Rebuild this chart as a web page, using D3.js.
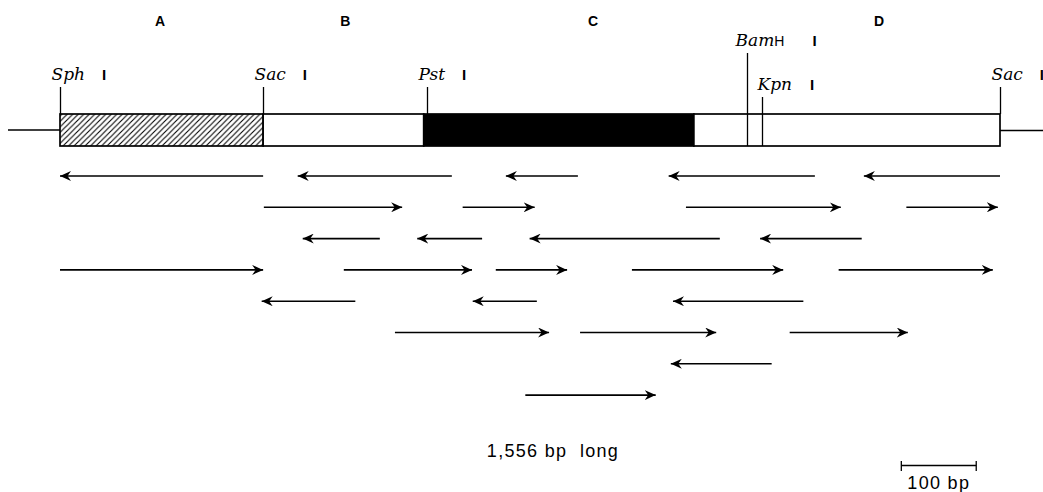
<!DOCTYPE html>
<html>
<head>
<meta charset="utf-8">
<script src="https://cdn.jsdelivr.net/npm/d3@7"></script>
<style>
  body { margin: 0; background: #fff; }
  svg { display: block; }
</style>
</head>
<body>
<svg id="chart" width="1043" height="492"></svg>
<script>
// positions are in bp along the insert
const MAP_LENGTH = 1305;
const sections = ['A', 'B', 'C', 'D'];
const sectionCenters = [139, 396, 740, 1137];

const regionStarts = [0, 282, 505, 880];
const regionEnds = [282, 505, 880, 1305];
const regionFills = ['hatch', 'open', 'solid', 'open'];

const siteNames = ['Sph', 'Sac', 'Pst', 'BamH', 'Kpn', 'Sac'];
const sitePositions = [0, 282, 510, 954, 975, 1305];
const siteLevels = [0, 0, 0, 2, 1, 0];

// sequencing runs: [from, to] in bp, arrow points at "to"
const runRows = [
  [[282, 0], [544, 330], [719, 619], [1048, 845], [1305, 1116]],
  [[283, 475], [559, 659], [869, 1084], [1175, 1302]],
  [[444, 337], [586, 496], [916, 652], [1113, 972]],
  [[0, 282], [394, 572], [605, 704], [794, 1004], [1081, 1295]],
  [[410, 280], [662, 573], [1032, 851]],
  [[465, 679], [722, 911], [1013, 1177]],
  [[988, 848]],
  [[646, 827]]
];

const TOTAL_LABEL = '1,556 bp  long';
const SCALE_BAR_BP = [1168, 1272];
const SCALE_BAR_LABEL = '100 bp';

(function () {
  const svg = d3.select('#chart');
  const x = d3.scaleLinear().domain([0, MAP_LENGTH]).range([60, 1000]);
  const row = d3.scaleLinear().domain([0, 1]).range([176, 207.3]);
  const BOX_TOP = 114;
  const BOX_BOTTOM = 146;
  const SITE_BASELINE = [80, 90, 46];
  const SITE_TICK_TOP = [87, 97, 53];
  const SITE_LABEL_SHIFT = [-9, -5, -12];
  const SITE_I_GAP = [17, 18, 28];
  const SERIF = '"DejaVu Serif", "Liberation Serif", serif';
  const SANS = '"Liberation Sans", Arial, sans-serif';

  function addDefs () {
    let defs = svg.append('defs');
    let pattern = defs.append('pattern')
      .attr('id', 'hatch')
      .attr('patternUnits', 'userSpaceOnUse')
      .attr('width', 5.5)
      .attr('height', 5.5);
    pattern.append('path')
      .attr('d', 'M-1,6.5L6.5,-1M-1,1L1,-1M4.5,6.5L6.5,4.5')
      .attr('stroke', '#000')
      .attr('stroke-width', 1.1);
    defs.append('marker')
      .attr('id', 'head')
      .attr('viewBox', '0 -5 12 10')
      .attr('refX', 11)
      .attr('refY', 0)
      .attr('markerUnits', 'userSpaceOnUse')
      .attr('markerWidth', 12)
      .attr('markerHeight', 10)
      .attr('orient', 'auto')
      .append('path')
      .attr('d', 'M0,-5L11,0L0,5L3.5,0Z')
      .attr('fill', '#000');
  }

  function drawSectionLetters () {
    svg.append('g').selectAll('text')
      .data(sections)
      .join('text')
      .attr('x', (d, i) => x(sectionCenters[i]))
      .attr('y', 26)
      .attr('text-anchor', 'middle')
      .attr('font-family', SANS)
      .attr('font-weight', 'bold')
      .attr('font-size', 14)
      .text(d => d);
  }

  function drawMap () {
    let g = svg.append('g');
    g.append('line')
      .attr('x1', 8).attr('x2', x(0))
      .attr('y1', 130).attr('y2', 130)
      .attr('stroke', '#000').attr('stroke-width', 1.5);
    g.append('line')
      .attr('x1', x(MAP_LENGTH)).attr('x2', 1043)
      .attr('y1', 130.5).attr('y2', 130.5)
      .attr('stroke', '#000').attr('stroke-width', 1.5);

    g.selectAll('rect')
      .data(regionFills)
      .join('rect')
      .attr('x', (d, i) => x(regionStarts[i]))
      .attr('width', (d, i) => x(regionEnds[i]) - x(regionStarts[i]))
      .attr('y', BOX_TOP)
      .attr('height', BOX_BOTTOM - BOX_TOP)
      .attr('fill', d => d === 'hatch' ? 'url(#hatch)' : (d === 'solid' ? '#000' : '#fff'))
      .attr('stroke', '#000')
      .attr('stroke-width', 1.7);
  }

  function drawSites () {
    let g = svg.append('g');
    siteNames.forEach(function (name, i) {
      let sx = Math.round(x(sitePositions[i])) + 0.5;
      let level = siteLevels[i];
      let tx = sx + SITE_LABEL_SHIFT[level];
      g.append('line')
        .attr('x1', sx).attr('x2', sx)
        .attr('y1', SITE_TICK_TOP[level])
        .attr('y2', level > 0 ? BOX_BOTTOM : BOX_TOP)
        .attr('stroke', '#000')
        .attr('stroke-width', 1.3);

      let label = g.append('text')
        .attr('x', tx)
        .attr('y', SITE_BASELINE[level])
        .attr('font-family', SERIF)
        .attr('font-size', 17);
      let italicPart = name.replace(/H$/, '');
      label.append('tspan')
        .attr('font-style', 'italic')
        .text(italicPart);
      if (italicPart !== name) {
        label.append('tspan')
          .attr('font-family', SANS)
          .attr('font-size', 14)
          .text('H');
      }
      let w = label.node().getComputedTextLength();
      g.append('text')
        .attr('x', tx + w + SITE_I_GAP[level])
        .attr('y', SITE_BASELINE[level])
        .attr('font-family', SANS)
        .attr('font-weight', 'bold')
        .attr('font-size', 15)
        .text('I');
    });
  }

  function drawRuns () {
    let g = svg.append('g');
    runRows.forEach(function (runs, r) {
      g.selectAll('line.row' + r)
        .data(runs)
        .join('line')
        .attr('class', 'row' + r)
        .attr('x1', d => x(d[0]))
        .attr('x2', d => x(d[1]))
        .attr('y1', row(r))
        .attr('y2', row(r))
        .attr('stroke', '#000')
        .attr('stroke-width', 1.6)
        .attr('marker-end', 'url(#head)');
    });
  }

  function drawFooter () {
    svg.append('text')
      .attr('x', 553)
      .attr('y', 457)
      .attr('text-anchor', 'middle')
      .attr('font-family', SANS)
      .attr('font-size', 18)
      .attr('letter-spacing', 1.3)
      .style('white-space', 'pre')
      .text(TOTAL_LABEL);

    let g = svg.append('g');
    let x0 = x(SCALE_BAR_BP[0]);
    let x1 = x(SCALE_BAR_BP[1]);
    g.append('line')
      .attr('x1', x0).attr('x2', x1)
      .attr('y1', 465.5).attr('y2', 465.5)
      .attr('stroke', '#000').attr('stroke-width', 1.3);
    [x0, x1].forEach(function (tx) {
      g.append('line')
        .attr('x1', tx).attr('x2', tx)
        .attr('y1', 461).attr('y2', 471)
        .attr('stroke', '#000').attr('stroke-width', 1.3);
    });
    g.append('text')
      .attr('x', (x0 + x1) / 2)
      .attr('y', 489)
      .attr('text-anchor', 'middle')
      .attr('font-family', SANS)
      .attr('font-size', 18)
      .attr('letter-spacing', 1.3)
      .text(SCALE_BAR_LABEL);
  }

  addDefs();
  drawSectionLetters();
  drawMap();
  drawSites();
  drawRuns();
  drawFooter();
}());
</script>
</body>
</html>
